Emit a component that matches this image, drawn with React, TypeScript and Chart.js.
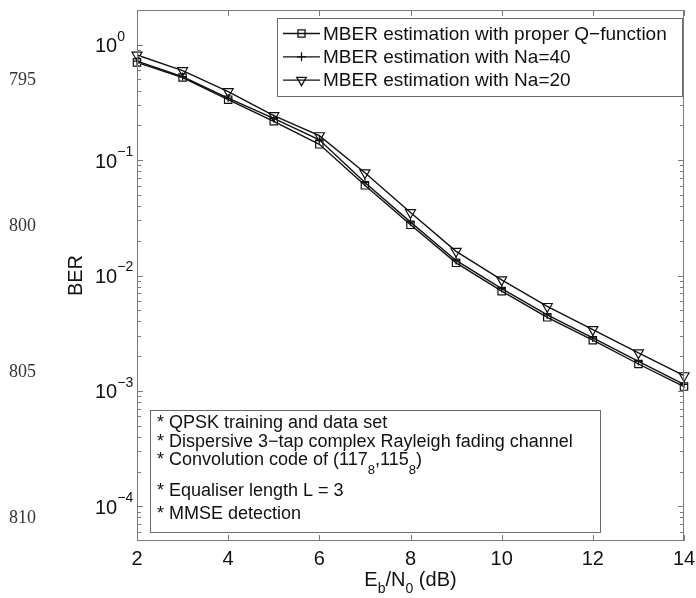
import React, { useEffect, useRef } from 'react';
import { Chart, registerables } from 'chart.js';

Chart.register(...registerables);

// ---------- data ----------
const ebn0 = [2, 3, 4, 5, 6, 7, 8, 9, 10, 11, 12, 13, 14];
const berProperQ = [0.703, 0.52, 0.334, 0.217, 0.137, 0.0605, 0.0275, 0.01288, 0.00732, 0.00434, 0.00275, 0.00171, 0.00109];
const berNa40 = [0.72, 0.53, 0.345, 0.23, 0.15, 0.064, 0.029, 0.0135, 0.0077, 0.00455, 0.00288, 0.0018, 0.00114];
const berNa20 = [0.815, 0.597, 0.393, 0.243, 0.163, 0.0778, 0.0351, 0.01619, 0.00918, 0.0054, 0.0034, 0.00214, 0.001355];

const seriesLabels = [
  'MBER estimation with proper Q\u2212function',
  'MBER estimation with Na=40',
  'MBER estimation with Na=20',
];

const xTickValues = [2, 4, 6, 8, 10, 12, 14];
const xTickLabels = ['2', '4', '6', '8', '10', '12', '14'];
const yTickValues = [1, 0.1, 0.01, 0.001, 0.0001];
const yTickLabels = ['10^{0}', '10^{\u22121}', '10^{\u22122}', '10^{\u22123}', '10^{\u22124}'];
const yMin = 5e-5;
const yMax = 2;
const xMin = 2;
const xMax = 14;

const xTitle = 'E_{b}/N_{0} (dB)';
const yTitle = 'BER';

const annotationLines = [
  '* QPSK training and data set',
  '* Dispersive 3\u2212tap complex Rayleigh fading channel',
  '* Convolution code of (117_{8},115_{8})',
  '* Equaliser length L = 3',
  '* MMSE detection',
];

const pageLineNumbers = ['795', '800', '805', '810'];

// ---------- drawing helpers ----------
const FONT = '"Liberation Sans", Arial, Helvetica, sans-serif';
const AXIS_COLOR = '#7a7a7a';
const BOX_COLOR = '#6a6a6a';
const TEXT_COLOR = '#111111';

type Part = { t: string; k: 'n' | 'sub' | 'sup' };

function parseRich(s: string): Part[] {
  const parts: Part[] = [];
  const re = /([_^])\{([^}]*)\}/g;
  let last = 0;
  let m: RegExpExecArray | null;
  while ((m = re.exec(s))) {
    if (m.index > last) parts.push({ t: s.slice(last, m.index), k: 'n' });
    parts.push({ t: m[2], k: m[1] === '_' ? 'sub' : 'sup' });
    last = re.lastIndex;
  }
  if (last < s.length) parts.push({ t: s.slice(last), k: 'n' });
  return parts;
}

function drawRich(
  ctx: CanvasRenderingContext2D,
  s: string,
  x: number,
  y: number,
  size: number,
  align: 'left' | 'center' | 'right',
  subDrop = 0.5,
  supRise = 0.5
) {
  const parts = parseRich(s);
  const small = Math.round(size * 0.7);
  const fontFor = (k: string) => `${k === 'n' ? size : small}px ${FONT}`;
  let total = 0;
  const widths = parts.map((p) => {
    ctx.font = fontFor(p.k);
    const w = ctx.measureText(p.t).width;
    total += w;
    return w;
  });
  let cx = align === 'left' ? x : align === 'center' ? x - total / 2 : x - total;
  ctx.textBaseline = 'middle';
  ctx.textAlign = 'left';
  ctx.fillStyle = TEXT_COLOR;
  parts.forEach((p, i) => {
    ctx.font = fontFor(p.k);
    const dy = p.k === 'sub' ? size * subDrop : p.k === 'sup' ? -size * supRise : 0;
    ctx.fillText(p.t, cx, y + dy);
    cx += widths[i];
  });
  return total;
}

function drawMarker(ctx: CanvasRenderingContext2D, style: string, x: number, y: number, r: number) {
  ctx.beginPath();
  if (style === 'rect') {
    const s = r * Math.SQRT1_2;
    ctx.rect(x - s, y - s, 2 * s, 2 * s);
  } else if (style === 'cross') {
    ctx.moveTo(x - r, y);
    ctx.lineTo(x + r, y);
    ctx.moveTo(x, y - r);
    ctx.lineTo(x, y + r);
  } else if (style === 'triangle') {
    for (let i = 0; i < 3; i++) {
      const rad = Math.PI + (i * 2 * Math.PI) / 3;
      const px = x + Math.sin(rad) * r;
      const py = y - Math.cos(rad) * r;
      if (i === 0) ctx.moveTo(px, py);
      else ctx.lineTo(px, py);
    }
    ctx.closePath();
  }
  ctx.stroke();
}

const overlayPlugin = {
  id: 'matlabOverlay',
  afterDraw(chart: any) {
    const { ctx, chartArea: a, scales } = chart;
    const xs = scales.x;
    const ys = scales.y;
    ctx.save();

    // frame
    ctx.strokeStyle = AXIS_COLOR;
    ctx.lineWidth = 1;
    ctx.strokeRect(a.left + 0.5, a.top + 0.5, a.right - a.left - 1, a.bottom - a.top - 1);

    // ticks (inside)
    ctx.beginPath();
    xTickValues.forEach((v) => {
      const px = Math.round(xs.getPixelForValue(v)) + 0.5;
      ctx.moveTo(px, a.bottom);
      ctx.lineTo(px, a.bottom - 6);
      ctx.moveTo(px, a.top);
      ctx.lineTo(px, a.top + 6);
    });
    ys.ticks.forEach((t: any) => {
      const v = t.value;
      const lg = Math.log10(v);
      const major = Math.abs(lg - Math.round(lg)) < 1e-9;
      const len = major ? 6 : 4;
      const py = Math.round(ys.getPixelForValue(v)) + 0.5;
      if (py < a.top || py > a.bottom) return;
      ctx.moveTo(a.left, py);
      ctx.lineTo(a.left + len, py);
      ctx.moveTo(a.right, py);
      ctx.lineTo(a.right - len, py);
    });
    ctx.stroke();

    xTickValues.forEach((v, i) => {
      const px = xs.getPixelForValue(v);
      drawRich(ctx, xTickLabels[i], px, a.bottom + 18, 20, 'center');
    });
    yTickValues.forEach((v, i) => {
      const py = ys.getPixelForValue(v);
      drawRich(ctx, yTickLabels[i], a.left - 42, py + 2, 20, 'left', 0.5, 0.5);
    });

    // axis titles
    drawRich(ctx, xTitle, (a.left + a.right) / 2, a.bottom + 39, 20, 'center', 0.45);
    ctx.save();
    ctx.translate(a.left - 61, (a.top + a.bottom) / 2);
    ctx.rotate(-Math.PI / 2);
    drawRich(ctx, yTitle, 0, 0, 20, 'center');
    ctx.restore();

    // legend
    const lgLeft = 277;
    const lgTop = a.top + 8;
    const lgRight = a.right - 1;
    const lgBottom = lgTop + 79;
    ctx.fillStyle = '#ffffff';
    ctx.fillRect(lgLeft, lgTop, lgRight - lgLeft, lgBottom - lgTop);
    ctx.strokeStyle = BOX_COLOR;
    ctx.lineWidth = 1;
    ctx.strokeRect(lgLeft + 0.5, lgTop + 0.5, lgRight - lgLeft - 1, lgBottom - lgTop - 1);
    chart.data.datasets.forEach((ds: any, i: number) => {
      const ry = lgTop + 15.5 + i * 23.3;
      ctx.strokeStyle = '#111';
      ctx.lineWidth = 1.3;
      ctx.beginPath();
      ctx.moveTo(lgLeft + 6, ry);
      ctx.lineTo(lgLeft + 43, ry);
      ctx.stroke();
      drawMarker(ctx, ds.pointStyle, lgLeft + 24.5, ry, ds.pointStyle === 'cross' ? 4.5 : ds.pointStyle === 'rect' ? 5 : 5.5);
      drawRich(ctx, ds.label, lgLeft + 46, ry + 1, 19, 'left');
    });

    // annotation box
    const bxLeft = 150;
    const bxTop = 410;
    const bxRight = 601;
    const bxBottom = 533;
    ctx.fillStyle = '#ffffff';
    ctx.fillRect(bxLeft, bxTop, bxRight - bxLeft, bxBottom - bxTop);
    ctx.strokeStyle = BOX_COLOR;
    ctx.lineWidth = 1;
    ctx.strokeRect(bxLeft + 0.5, bxTop + 0.5, bxRight - bxLeft - 1, bxBottom - bxTop - 1);
    const rowOffsets = [13, 32, 50, 81, 104];
    annotationLines.forEach((line, i) => {
      drawRich(ctx, line, bxLeft + 7, bxTop + rowOffsets[i], 18, 'left', 0.6);
    });

    // page line numbers (scanned margin)
    const lineNumY = [80, 226, 372, 518];
    ctx.fillStyle = '#333333';
    ctx.font = '18px "Liberation Serif", "Times New Roman", serif';
    ctx.textAlign = 'left';
    ctx.textBaseline = 'middle';
    pageLineNumbers.forEach((n, i) => ctx.fillText(n, 9, lineNumY[i]));

    ctx.restore();
  },
};

export default function App() {
  const canvasRef = useRef<HTMLCanvasElement | null>(null);

  useEffect(() => {
    document.body.style.margin = '0';
    const canvas = canvasRef.current;
    if (!canvas) return;
    const mk = (vals: number[]) => ebn0.map((x, i) => ({ x, y: vals[i] }));
    const common = {
      borderColor: '#111111',
      backgroundColor: 'rgba(0,0,0,0)',
      pointBorderColor: '#111111',
      pointBackgroundColor: 'rgba(0,0,0,0)',
      borderWidth: 1.4,
      pointBorderWidth: 1.2,
      tension: 0,
      fill: false,
      clip: false as any,
    };
    const chart = new Chart(canvas, {
      type: 'line',
      data: {
        datasets: [
          { ...common, label: seriesLabels[0], data: mk(berProperQ), pointStyle: 'rect', pointRadius: 5.2 },
          { ...common, label: seriesLabels[1], data: mk(berNa40), pointStyle: 'cross', pointRadius: 4 },
          { ...common, label: seriesLabels[2], data: mk(berNa20), pointStyle: 'triangle', pointRotation: 180, pointRadius: 5.8 },
        ],
      },
      options: {
        responsive: false,
        animation: false,
        devicePixelRatio: 1,
        layout: { padding: { left: 137, top: 10, right: 12, bottom: 57 } },
        plugins: {
          legend: { display: false },
          tooltip: { enabled: false },
          title: { display: false },
        },
        scales: {
          x: {
            type: 'linear',
            min: xMin,
            max: xMax,
            grid: { display: false, drawTicks: false },
            border: { display: false },
            ticks: { display: false, stepSize: 2 },
          },
          y: {
            type: 'logarithmic',
            min: yMin,
            max: yMax,
            grid: { display: false, drawTicks: false },
            border: { display: false },
            ticks: { display: false },
            afterBuildTicks: (scale: any) => {
              const ticks: { value: number }[] = [];
              const decades = [1e-5, ...yTickValues.slice().reverse()];
              decades.forEach((d) => {
                for (let m = 1; m <= 9; m++) {
                  const v = m * d;
                  if (v >= yMin * 0.999 && v <= yMax * 1.001) ticks.push({ value: v });
                }
              });
              scale.ticks = ticks;
            },
          },
        },
      },
      plugins: [overlayPlugin],
    });
    return () => chart.destroy();
  }, []);

  return (
    <div style={{ width: 696, height: 598, position: 'relative', background: '#fff' }}>
      <canvas
        ref={canvasRef}
        width={696}
        height={598}
        style={{ display: 'block', width: 696, height: 598, position: 'absolute', left: 0, top: 0 }}
      />
    </div>
  );
}
